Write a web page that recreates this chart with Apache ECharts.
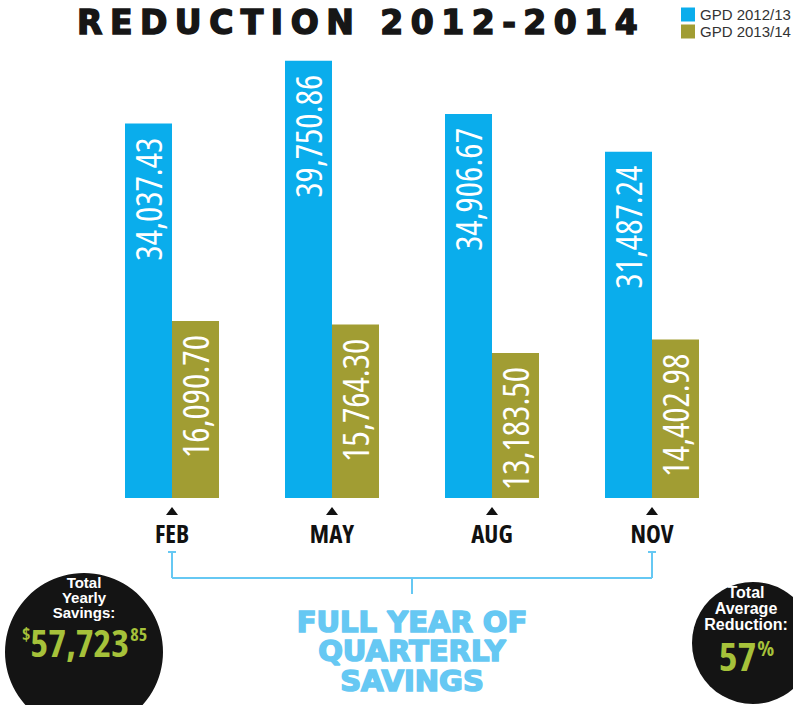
<!DOCTYPE html>
<html>
<head>
<meta charset="utf-8">
<script src="https://cdn.jsdelivr.net/npm/echarts@6/dist/echarts.min.js"></script>
<style>
  html, body { margin: 0; padding: 0; background: #fff; }
  #chart { width: 793px; height: 705px; }
</style>
</head>
<body>
<div id="chart"></div>
<script>
// data
const categories = ['FEB', 'MAY', 'AUG', 'NOV'];
const seriesNames = ['GPD 2012/13', 'GPD 2013/14'];
const gpd2012 = [34037.43, 39750.86, 34906.67, 31487.24];
const gpd2013 = [16090.70, 15764.30, 13183.50, 14402.98];
const titleText = 'REDUCTION 2012-2014';
const bracketText = 'FULL YEAR OF\nQUARTERLY\nSAVINGS';
const savingsLabel = 'Total\nYearly\nSavings:';
const totalSavings = ['$', '57,723', '85'];
const reductionLabel = 'Total\nAverage\nReduction:';
const avgReduction = ['', '57', '%'];

const BLUE = '#0aadec';
const OLIVE = '#a19d33';
const LIGHT = '#66c8f3';
const GREEN = '#a6c23a';
const BAR_W = 47;

// look for a narrow face (a real condensed family or a variable font with a width axis)
const probeCtx = document.createElement('canvas').getContext('2d');
function pickNarrow() {
  const probe = '34,037.43 FEB MAY Savings';
  const w = f => { probeCtx.font = f; return probeCtx.measureText(probe).width; };
  const base = w("30px 'Liberation Sans'");
  for (const f of ['DejaVu Sans Condensed', 'Liberation Sans Narrow']) {
    if (w("30px '" + f + "'") < base * 0.9) return { family: f, stretch: false, k: 1 };
  }
  for (const f of ['Noto Sans', 'Open Sans', 'Roboto', 'Inter']) {
    const n = w("30px '" + f + "'");
    const cnd = w("condensed 30px '" + f + "'");
    if (cnd < n * 0.88) return { family: f, stretch: true, k: 1 };
  }
  return { family: 'Liberation Sans', stretch: false, k: 0.82 };
}
const fit = pickNarrow();
const NARROW = "'" + fit.family + "', 'Liberation Sans', sans-serif";
const k = fit.k;

function narrowWidth(text, size) {
  probeCtx.font = (fit.stretch ? 'condensed ' : '') + 'bold ' + size + "px '" + fit.family + "'";
  return probeCtx.measureText(text).width;
}

const chart = echarts.init(document.getElementById('chart'), null, { renderer: 'svg' });

function money(v) {
  return v.toLocaleString('en-US', { minimumFractionDigits: 2, maximumFractionDigits: 2 });
}

function barLabel() {
  return {
    show: true,
    position: 'insideTop',
    rotate: 90,
    align: 'right',
    verticalAlign: 'middle',
    distance: 14,
    color: '#fff',
    fontSize: Math.round(36 * k),
    fontFamily: NARROW,
    formatter: p => money(p.value)
  };
}

chart.setOption({
  animation: false,
  title: {
    text: titleText,
    left: 72,
    top: 1,
    textStyle: {
      fontFamily: 'DejaVu Sans', fontWeight: 'bold', fontSize: 33, color: '#161616',
      textBorderColor: '#161616', textBorderWidth: 1.5
    }
  },
  legend: {
    data: seriesNames,
    orient: 'vertical',
    left: 681,
    top: 7,
    padding: 0,
    itemWidth: 14,
    itemHeight: 14,
    itemGap: 2,
    icon: 'rect',
    textStyle: { fontSize: 15, color: '#333', fontFamily: 'Liberation Sans' }
  },
  grid: { left: 92, right: 61, top: 58, bottom: 207 },
  xAxis: {
    type: 'category',
    data: categories,
    axisLine: { show: false },
    axisTick: { show: false },
    axisLabel: {
      margin: 22,
      fontSize: Math.round(25 * k),
      fontWeight: 'bold',
      color: '#111',
      fontFamily: NARROW
    }
  },
  yAxis: { type: 'value', min: 0, max: 40000, show: false },
  series: [
    {
      name: seriesNames[0], type: 'bar', data: gpd2012, barWidth: BAR_W, barGap: '0%',
      itemStyle: { color: BLUE }, label: barLabel(),
      // little pointers under each month (shifted from this bar to the month centre)
      markPoint: {
        symbol: 'triangle',
        symbolSize: [12, 8],
        symbolOffset: [BAR_W / 2, 13],
        silent: true,
        label: { show: false },
        itemStyle: { color: '#111' },
        data: categories.map(c => ({ coord: [c, 0] }))
      }
    },
    { name: seriesNames[1], type: 'bar', data: gpd2013, barWidth: BAR_W, barGap: '0%',
      itemStyle: { color: OLIVE }, label: barLabel() }
  ]
});

// bracket under the months + side badges
const xFirst = chart.convertToPixel({ xAxisIndex: 0 }, categories[0]);
const xLast = chart.convertToPixel({ xAxisIndex: 0 }, categories[categories.length - 1]);
const xMid = (xFirst + xLast) / 2;
const lineStyle = { stroke: LIGHT, lineWidth: 2 };

// green figure with small raised parts on either side, centred on x
function amount(parts, x, y, big, small) {
  const wl = parts[0] ? narrowWidth(parts[0], small) : 0;
  const wm = narrowWidth(parts[1], big);
  const wr = parts[2] ? narrowWidth(parts[2], small) : 0;
  const left = x - (wl + wm + wr) / 2;
  const st = (t, size, align) => ({
    text: t, fill: GREEN, font: 'bold ' + size + 'px ' + NARROW, align: align, verticalAlign: 'middle'
  });
  const els = [{ type: 'text', x: left + wl, y: y, style: st(parts[1], big, 'left') }];
  if (parts[0]) els.push({ type: 'text', x: left + wl, y: y - 8, style: st(parts[0], small, 'right') });
  if (parts[2]) els.push({ type: 'text', x: left + wl + wm + 1, y: y - 8, style: st(parts[2], small, 'left') });
  return els;
}

chart.setOption({
  graphic: [
    { type: 'line', shape: { x1: xFirst, y1: 552, x2: xFirst, y2: 578 }, style: lineStyle },
    { type: 'line', shape: { x1: xFirst - 4, y1: 552, x2: xFirst + 4, y2: 552 }, style: lineStyle },
    { type: 'line', shape: { x1: xLast, y1: 552, x2: xLast, y2: 578 }, style: lineStyle },
    { type: 'line', shape: { x1: xLast - 4, y1: 552, x2: xLast + 4, y2: 552 }, style: lineStyle },
    { type: 'line', shape: { x1: xFirst, y1: 578, x2: xLast, y2: 578 }, style: lineStyle },
    { type: 'line', shape: { x1: xMid, y1: 578, x2: xMid, y2: 594 }, style: lineStyle },
    {
      type: 'text', x: xMid, y: 651,
      style: {
        text: bracketText, fill: LIGHT, font: 'bold 29px DejaVu Sans',
        stroke: LIGHT, lineWidth: 1.6,
        align: 'center', verticalAlign: 'middle', lineHeight: 29.5
      }
    },
    { type: 'circle', shape: { cx: 84, cy: 652, r: 79 }, style: { fill: '#141414' } },
    {
      type: 'text', x: 84, y: 597,
      style: {
        text: savingsLabel, fill: '#fff', font: 'bold 15px Liberation Sans',
        align: 'center', verticalAlign: 'middle', lineHeight: 15
      }
    },
    ...amount(totalSavings, 84, 642, 38, 18),
    { type: 'circle', shape: { cx: 753, cy: 643, r: 61 }, style: { fill: '#141414' } },
    {
      type: 'text', x: 746, y: 608,
      style: {
        text: reductionLabel, fill: '#fff', font: 'bold 16px Liberation Sans',
        align: 'center', verticalAlign: 'middle', lineHeight: 16
      }
    },
    ...amount(avgReduction, 746, 655, 40, 22)
  ]
});

// wide tracking on the headline, width axis on the narrow texts
function finishText() {
  document.querySelectorAll('#chart text').forEach(t => {
    if (t.textContent === titleText) t.setAttribute('letter-spacing', '7.5');
    if (fit.stretch && getComputedStyle(t).fontFamily.indexOf(fit.family) >= 0) {
      t.style.fontStretch = 'condensed';
    }
  });
}
chart.on('finished', finishText);
finishText();
setTimeout(finishText, 0);
</script>
</body>
</html>
